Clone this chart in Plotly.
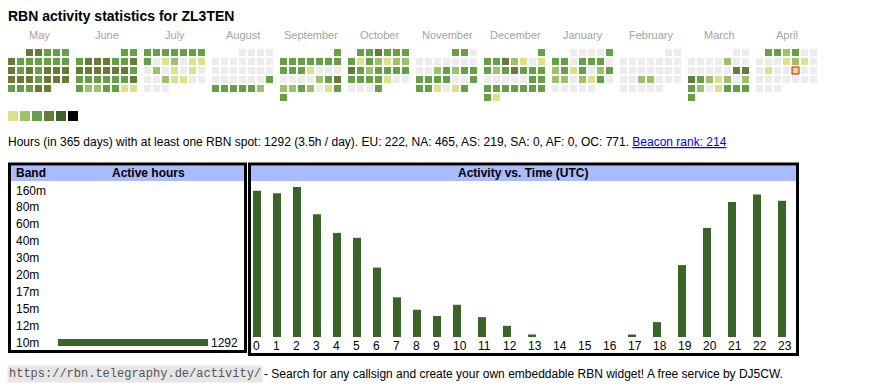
import datetime as dt
import plotly.graph_objects as go

W, H = 870, 390
SANS = "Liberation Sans, Arial, sans-serif"
MONO = "Liberation Mono, DejaVu Sans Mono, monospace"

# ---------------- data ----------------
callsign = "ZL3TEN"
month_names = ["May", "June", "July", "August", "September", "October",
               "November", "December", "January", "February", "March", "April"]
month_years = [2024, 2024, 2024, 2024, 2024, 2024, 2024, 2024, 2025, 2025, 2025, 2025]
month_numbers = [5, 6, 7, 8, 9, 10, 11, 12, 1, 2, 3, 4]

# daily activity level (0 = none ... 6 = max), one value per day of month
may = [4, 4, 3, 3, 3, 4, 3, 3, 3, 3, 3, 3, 4, 3, 4, 3, 4, 4, 4, 4, 4, 4, 3, 4, 4, 4, 3, 3, 3, 4, 4]
june = [3, 3, 3, 4, 4, 4, 3, 3, 4, 4, 4, 4, 4, 4, 4, 3, 3, 3, 3, 3, 3, 3, 4, 3, 2, 2, 3, 3, 1, 1]
july = [3, 3, 3, 3, 3, 3, 3, 3, 0, 1, 2, 0, 1, 1, 0, 2, 0, 1, 0, 1, 0, 0, 0, 2, 1, 1, 0, 0, 0, 0, 0]
august = [0, 0, 0, 0, 0, 0, 0, 0, 0, 0, 0, 0, 0, 0, 0, 0, 0, 0, 0, 0, 0, 0, 0, 0, 3, 3, 3, 3, 3, 3, 2]
september = [3, 3, 3, 3, 3, 3, 3, 3, 3, 3, 3, 1, 0, 0, 0, 0, 0, 0, 0, 2, 3, 4, 2, 2, 3, 2, 0, 1, 3, 3]
october = [3, 3, 4, 3, 3, 3, 3, 1, 3, 2, 1, 2, 2, 4, 3, 2, 3, 3, 3, 3, 3, 3, 3, 3, 1, 0, 0, 0, 0, 0, 3]
november = [3, 3, 0, 0, 0, 0, 0, 0, 0, 0, 0, 0, 2, 3, 2, 3, 3, 3, 3, 3, 3, 0, 0, 3, 3, 3, 1, 0, 1, 3]
december = [3, 3, 3, 4, 2, 1, 0, 1, 3, 2, 3, 4, 3, 3, 3, 0, 0, 0, 0, 0, 3, 3, 3, 3, 3, 3, 3, 3, 3, 3, 1]
january = [0, 0, 0, 0, 3, 3, 3, 0, 3, 3, 3, 0, 2, 3, 1, 3, 0, 2, 3, 2, 2, 0, 2, 1, 3, 0, 0, 0, 0, 0, 0]
february = [0, 0, 0, 0, 0, 0, 0, 0, 0, 0, 0, 0, 0, 0, 0, 0, 0, 0, 2, 2, 0, 0, 0, 0, 0, 0, 0, 0]
march = [0, 0, 0, 0, 0, 0, 2, 0, 0, 0, 0, 0, 0, 0, 4, 4, 4, 3, 2, 1, 2, 0, 2, 3, 2, 0, 1, 3, 3, 3, 3]
april = [3, 3, 2, 3, 0, 0, 0, 0, 0, 1, 2, 1, 0, 0, 1, 0, 0, 1, 0, 0, 0, 0, 0, 0, 0, 0, 0, 0, 0, 0]
today = dt.date(2025, 4, 18)

level_colors = ["#ececec", "#dce28b", "#9dc06a", "#659f46", "#677a37", "#3b6428", "#000000"]
legend_levels = [1, 2, 3, 4, 5, 6]

total_hours = 1292
days = 365
continents = ["EU", "NA", "AS", "SA", "AF", "OC"]
continent_hours = [222, 465, 219, 0, 0, 771]
beacon_rank = 214

bands = ["160m", "80m", "60m", "40m", "30m", "20m", "17m", "15m", "12m", "10m"]
band_hours = [0, 0, 0, 0, 0, 0, 0, 0, 0, 1292]

hour_labels = [str(h) for h in range(24)]
hour_activity = [118, 116, 121, 99, 84, 80, 56, 32, 22, 17, 26, 16,
                 9, 2, 0, 0, 0, 2, 12, 58, 88, 109, 115, 110]

month_levels = [may, june, july, august, september, october,
                november, december, january, february, march, april]

# ---------------- layout constants ----------------
CAL_LEFT, CAL_TOP = 8, 49
CELL, PITCH, BLOCK = 7, 9, 68
BAR_COLOR = "#3b6428"
HEAD_BG = "#aabbff"


def py(p):  # pixel row -> paper y
    return 1 - p / H


fig = go.Figure()

# ---------------- calendar ----------------
xs, ys, cols = [], [], []
tx, ty, tc = [], [], []
for m, levels in enumerate(month_levels):
    first = dt.date(month_years[m], month_numbers[m], 1)
    off = first.weekday()
    for d, lev in enumerate(levels):
        r, c = divmod(off + d, 7)
        cx = CAL_LEFT + BLOCK * m + PITCH * c + CELL / 2
        cy = CAL_TOP + PITCH * r + CELL / 2
        xs.append(cx)
        ys.append(cy)
        cols.append(level_colors[lev])
        if first + dt.timedelta(days=d) == today:
            tx.append(cx)
            ty.append(cy)
            tc.append(level_colors[lev])

fig.add_trace(go.Scatter(x=xs, y=ys, mode="markers", xaxis="x", yaxis="y",
                         marker=dict(symbol="square", size=CELL, color=cols, line=dict(width=0)),
                         hoverinfo="skip", showlegend=False))
fig.add_trace(go.Scatter(x=tx, y=ty, mode="markers", xaxis="x", yaxis="y",
                         marker=dict(symbol="square", size=CELL, color=tc, line=dict(width=1, color="#ee0000")),
                         hoverinfo="skip", showlegend=False))

# legend squares
fig.add_trace(go.Scatter(x=[CAL_LEFT + 5 + 12 * i for i in range(len(legend_levels))],
                         y=[116] * len(legend_levels), mode="markers", xaxis="x", yaxis="y",
                         marker=dict(symbol="square", size=10,
                                     color=[level_colors[l] for l in legend_levels], line=dict(width=0)),
                         hoverinfo="skip", showlegend=False))

annotations = []
# title
annotations.append(dict(text="<b>RBN activity statistics for %s</b>" % callsign, x=6, y=16,
                        xref="x", yref="y", xanchor="left", yanchor="middle", showarrow=False,
                        font=dict(family=SANS, size=14, color="#000")))
for m, name in enumerate(month_names):
    annotations.append(dict(text=name, x=CAL_LEFT + BLOCK * m + 31, y=35, xref="x", yref="y",
                            xanchor="center", yanchor="middle", showarrow=False,
                            font=dict(family=SANS, size=11, color="#a3a3a3")))

# info line
cont_txt = ", ".join("%s: %d" % (c, v) for c, v in zip(continents, continent_hours))
info = ("Hours (in %d days) with at least one RBN spot: %d (%.1fh / day). %s. "
        "<a href='https://rbn.telegraphy.de/activity/%s'><span style='color:#0000ee'><u>Beacon rank: %d</u></span></a>"
        % (days, total_hours, total_hours / days, cont_txt, callsign, beacon_rank))
annotations.append(dict(text=info, x=6, y=142, xref="x", yref="y", xanchor="left", yanchor="middle",
                        showarrow=False, font=dict(family=SANS, size=12, color="#000")))

# ---------------- boxes ----------------
ACT_LEFT, ACT_RIGHT = 248.0, 798.0
shapes = [
    dict(type="rect", xref="x", yref="y", x0=10, x1=244, y0=165.5, y1=181, fillcolor=HEAD_BG,
         line=dict(width=0), layer="below"),
    dict(type="rect", xref="x", yref="y", x0=251, x1=796, y0=165.5, y1=181, fillcolor=HEAD_BG,
         line=dict(width=0), layer="below"),
    dict(type="rect", xref="x", yref="y", x0=9.5, x1=245.5, y0=164, y1=351.5,
         line=dict(width=3, color="#000"), layer="above"),
    dict(type="rect", xref="x", yref="y", x0=249.5, x1=797.5, y0=164, y1=354.5,
         line=dict(width=3, color="#000"), layer="above"),
]
hdr_font = dict(family=SANS, size=12, color="#000")
annotations.append(dict(text="<b>Band</b>", x=14, y=172.5, xref="x", yref="y", xanchor="left",
                        yanchor="middle", showarrow=False, font=hdr_font))
annotations.append(dict(text="<b>Active hours</b>", x=148, y=172.5, xref="x", yref="y", xanchor="center",
                        yanchor="middle", showarrow=False, font=hdr_font))
annotations.append(dict(text="<b>Activity vs. Time (UTC)</b>", x=523, y=172.5, xref="x", yref="y",
                        xanchor="center", yanchor="middle", showarrow=False, font=hdr_font))

# ---------------- band bars ----------------
fig.add_trace(go.Bar(y=bands, x=band_hours, orientation="h", xaxis="x2", yaxis="y2",
                     width=0.41, marker=dict(color=BAR_COLOR, line=dict(width=0)),
                     text=[str(v) if v else "" for v in band_hours], textposition="outside",
                     constraintext="none", cliponaxis=False,
                     textfont=dict(family=SANS, size=12, color="#000"),
                     hoverinfo="skip", showlegend=False))
for b in bands:
    annotations.append(dict(text=b, x=14 / W, y=b, xref="paper", yref="y2", xanchor="left",
                            yanchor="middle", showarrow=False, font=dict(family=SANS, size=12, color="#000")))

# ---------------- activity vs time ----------------
col_w = [len(l) + 3 for l in hour_labels]
col_start = [sum(col_w[:i]) for i in range(len(col_w))]
fig.add_trace(go.Bar(x=[s + 1 for s in col_start], y=hour_activity, xaxis="x3", yaxis="y3",
                     offset=0, width=1.6, marker=dict(color=BAR_COLOR, line=dict(width=0)),
                     hoverinfo="skip", showlegend=False))
for s, lab in zip(col_start, hour_labels):
    annotations.append(dict(text=lab, x=s + 0.6, y=py(346), xref="x3", yref="paper", xanchor="left",
                            yanchor="middle", showarrow=False, font=dict(family=SANS, size=12, color="#000")))

# ---------------- footer ----------------
annotations.append(dict(text="https://rbn.telegraphy.de/activity/", x=7, y=374, xref="x", yref="y",
                        xanchor="left", yanchor="middle", showarrow=False, bgcolor="#e6e6e6", borderpad=1,
                        font=dict(family=MONO, size=12, color="#555")))
annotations.append(dict(text="- Search for any callsign and create your own embeddable RBN widget! "
                             "A free service by DJ5CW.", x=262, y=374, xref="x", yref="y",
                        xanchor="left", yanchor="middle", showarrow=False,
                        font=dict(family=SANS, size=12, color="#000")))

hidden = dict(visible=False, showgrid=False, zeroline=False, fixedrange=True)
fig.update_layout(
    width=W, height=H, margin=dict(l=0, r=0, t=0, b=0),
    paper_bgcolor="#ffffff", plot_bgcolor="rgba(0,0,0,0)",
    hovermode=False, showlegend=False,
    xaxis=dict(hidden, domain=[0, 1], range=[0, W]),
    yaxis=dict(hidden, domain=[0, 1], range=[H, 0]),
    xaxis2=dict(hidden, domain=[58 / W, 208 / W], range=[0, max(band_hours)], anchor="y2"),
    yaxis2=dict(hidden, domain=[py(351.5), py(181.5)], type="category", autorange="reversed",
                categoryorder="array", categoryarray=bands, anchor="x2"),
    xaxis3=dict(hidden, domain=[ACT_LEFT / W, ACT_RIGHT / W], range=[0, sum(col_w)], anchor="y3"),
    yaxis3=dict(hidden, domain=[py(337), py(181)], range=[0, max(hour_activity) * 1.04], anchor="x3"),
    shapes=shapes, annotations=annotations,
)

fig.write_html("out.html", config={"displayModeBar": False, "staticPlot": True},
               post_script="document.body.style.margin='0px';")
